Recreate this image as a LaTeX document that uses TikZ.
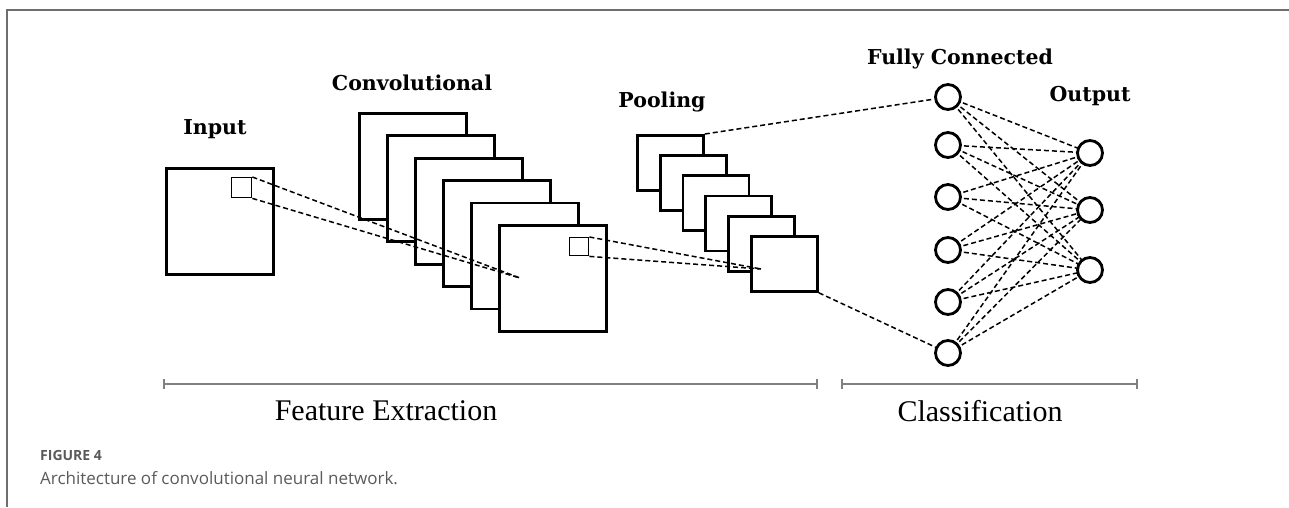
\documentclass[tikz,border=0pt]{standalone}
\usepackage{fontspec}
\newfontfamily\headfont{DejaVu Serif}
\newfontfamily\axisfont{Liberation Serif}
\newfontfamily\capfont{Open Sans}
\definecolor{framegray}{HTML}{6E6E6E}
\definecolor{bargray}{HTML}{808080}
\definecolor{captiongray}{HTML}{5A5A5A}
\tikzset{
  fmap/.style={draw, fill=white, line width=2.8pt, inner sep=0pt, anchor=north west},
  convmap/.style={fmap, minimum width=107pt, minimum height=106pt},
  poolmap/.style={fmap, minimum width=66pt, minimum height=55pt},
  kernel/.style={draw, fill=white, line width=1.4pt, inner sep=0pt, minimum width=20pt, minimum height=20pt, anchor=north west},
  neuron/.style={circle, draw, fill=white, line width=2.8pt, minimum size=25pt, inner sep=0pt},
  link/.style={line width=1.5pt, dash pattern=on 5pt off 3pt},
  heading/.style={font=\headfont\bfseries\fontsize{20.5}{24}\selectfont},
  stagelabel/.style={font=\axisfont\fontsize{30}{34}\selectfont},
  bar/.style={draw=bargray, line width=2pt},
}
\begin{document}
\begin{tikzpicture}[x=1pt, y=-1pt]
\useasboundingbox (0,0) rectangle (1289,507);
% frame
\draw[framegray, line width=1.5pt] (7,507) -- (7,10) -- (1289,10);

% input image with its receptive field
\node[fmap, minimum width=107pt, minimum height=106pt] (input) at (165,167) {};
\node[kernel] (inK) at (231,177) {};

% convolutional feature maps, back to front
\foreach \i in {0,...,5}
  \node[convmap] (c\i) at ({358+28*\i},{112+22.4*\i}) {};
\node[kernel, minimum width=19pt, minimum height=18pt] (cK) at (569,237) {};
\coordinate (cHit) at (520,278);
\draw[link] (inK.north east) -- (cHit);
\draw[link] (inK.south east) -- (cHit);

% pooling maps, back to front
\foreach \i in {0,...,5}
  \node[poolmap] (p\i) at ({636+22.8*\i},{134+20.2*\i}) {};
\coordinate (pHit) at (761,269);
\draw[link] (cK.north east) -- (pHit);
\draw[link] (cK.south east) -- (pHit);

% fully connected and output layers
\foreach \j/\y in {1/97,2/145,3/197,4/250,5/302,6/353}
  \coordinate (fpos\j) at (948,\y);
\foreach \k/\y in {1/153,2/210,3/270}
  \coordinate (opos\k) at (1090,\y);
\foreach \j in {1,...,6}
  \foreach \k in {1,2,3}
    \draw[link] (fpos\j) -- (opos\k);
\foreach \j in {1,...,6}
  \node[neuron] (f\j) at (fpos\j) {};
\foreach \k in {1,2,3}
  \node[neuron] (o\k) at (opos\k) {};
\draw[link] (p0.north east) -- (f1);
\draw[link] (p5.south east) -- (f6);

% layer headings
\node[heading] (tIn) at (215,129) {Input};
\node[heading] (tConv) at (412,83) {Convolutional};
\node[heading] (tPool) at (662,102) {Pooling};
\node[heading] (tFC) at (960,59) {Fully Connected};
\node[heading] (tOut) at (1090,96) {Output};

% stage brackets
\draw[bar] (164,379) -- (164,389);
\draw[bar] (817,379) -- (817,389);
\draw[bar] (164,384) -- (817,384);
\draw[bar] (842,379) -- (842,389);
\draw[bar] (1137,379) -- (1137,389);
\draw[bar] (842,384) -- (1137,384);
\node[stagelabel] (sFE) at (386,411) {Feature Extraction};
\node[stagelabel] (sCl) at (980,411) {Classification};

% caption
\node[anchor=west, inner sep=0pt, text=captiongray, font=\capfont\bfseries\fontsize{14}{16}\selectfont] (figno) at (40,455) {FIGURE 4};
\node[anchor=west, inner sep=0pt, text=captiongray, font=\capfont\fontsize{17}{20}\selectfont] (captext) at (40,478) {Architecture of convolutional neural network.};
\end{tikzpicture}
\end{document}
